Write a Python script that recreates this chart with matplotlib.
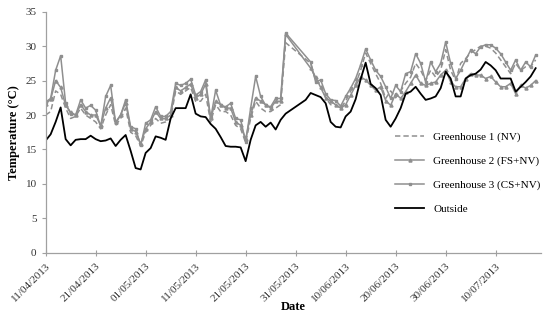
import numpy as np
import pandas as pd
import matplotlib
matplotlib.use("Agg")
import matplotlib.pyplot as plt
import matplotlib.dates as mdates

nan = np.nan
start = "2013-04-11"

# daily values from 11/04/2013, NaN = no greenhouse record
gh1 = [20.0, 20.5, 23.5, 23.0, 21.0, 19.5, 19.8, 21.0, 20.0, 19.5,
       19.0, 18.0, 20.0, 21.5, 18.5, 19.5, 21.0, 17.5, 17.0, 15.5,
       17.5, 18.5, 19.5, 18.8, 19.0, 19.5, 23.5, 23.0, 23.5, 24.0,
       22.0, 22.0, 23.0, 19.0, 21.5, 20.5, 20.5, 20.0, 18.5, 18.0,
       16.0, 19.5, 22.0, 21.0, 20.5, 20.5, 21.0, 21.5, 30.5, nan,
       nan, nan, nan, 27.5, 25.0, 24.5, 22.5, 21.5, 21.5, 21.0,
       22.0, 23.5, 24.5, 26.5, 29.0, 27.5, 26.0, 24.6, 22.4, 23.5,
       22.5, 23.5, 24.6, 25.5, 27.5, 26.5, 25.0, 26.5, 25.5, 26.5,
       29.5, 26.5, 25.0, 27.5, 28.2, 29.0, 29.5, 30.0, 30.0, 29.7,
       29.0, 28.0, 27.0, 26.0, 27.5, 26.5, 27.0, 27.0, 28.0]
gh2 = [21.6, 22.3, 25.0, 24.0, 21.4, 20.4, 20.0, 21.5, 20.5, 20.0,
       20.0, 18.5, 21.0, 22.5, 19.0, 20.0, 21.8, 18.0, 17.6, 15.8,
       18.0, 19.0, 20.5, 19.5, 19.5, 20.0, 24.0, 23.5, 24.0, 24.5,
       22.5, 23.0, 24.5, 19.5, 22.0, 21.5, 21.0, 21.0, 19.0, 18.5,
       16.5, 20.0, 22.5, 22.0, 21.5, 21.0, 22.0, 22.0, 31.7, nan,
       nan, nan, nan, 26.8, 25.5, 24.0, 22.5, 22.0, 21.5, 21.0,
       21.5, 22.9, 24.3, 25.5, 25.1, 24.3, 23.6, 24.1, 22.1, 21.4,
       23.1, 22.4, 23.4, 24.6, 25.8, 24.6, 24.3, 24.6, 24.8, 25.8,
       26.5, 24.8, 24.1, 24.1, 25.3, 26.0, 25.8, 25.8, 25.3, 25.6,
       24.8, 24.1, 24.1, 24.6, 23.1, 24.3, 23.9, 24.3, 25.0]
gh3 = [21.9, 22.4, 26.5, 28.6, 21.7, 20.2, 20.0, 22.2, 21.0, 21.4,
       20.7, 18.3, 22.7, 24.3, 18.8, 20.0, 22.2, 18.3, 18.0, 15.6,
       18.8, 19.3, 21.2, 19.8, 19.8, 20.5, 24.6, 24.3, 24.6, 25.2,
       22.9, 23.4, 25.1, 19.5, 23.6, 21.4, 21.2, 21.7, 19.5, 19.3,
       16.1, 21.0, 25.6, 22.7, 21.4, 21.2, 22.4, 22.4, 31.9, nan,
       nan, nan, nan, 27.7, 24.8, 25.1, 23.1, 22.2, 22.1, 21.3,
       22.7, 23.9, 25.3, 27.3, 29.6, 28.0, 26.5, 25.6, 24.1, 22.4,
       24.3, 23.4, 26.0, 26.3, 28.9, 27.5, 24.8, 27.7, 26.3, 27.5,
       30.6, 27.5, 25.3, 26.5, 28.0, 29.4, 28.9, 29.9, 30.2, 30.2,
       29.7, 28.9, 27.7, 26.5, 28.0, 26.5, 27.7, 27.0, 28.7]
outside = [16.3, 17.2, 19.0, 21.1, 16.5, 15.6, 16.4, 16.5, 16.5, 17.0,
           16.5, 16.2, 16.3, 16.6, 15.5, 16.4, 17.1, 14.8, 12.3, 12.1,
           14.5, 15.2, 16.9, 16.7, 16.4, 19.5, 21.0, 21.0, 21.0, 23.0,
           20.2, 19.8, 19.7, 18.7, 18.0, 16.8, 15.5, 15.4, 15.4, 15.3,
           13.3, 16.4, 18.5, 19.0, 18.3, 18.9, 17.9, 19.3, 20.2, 20.7,
           21.2, 21.7, 22.2, 23.2, 22.9, 22.6, 21.7, 19.0, 18.3, 18.2,
           19.8, 20.5, 22.3, 25.2, 27.6, 24.5, 23.9, 22.9, 19.3, 18.3,
           19.5, 21.0, 23.1, 23.4, 24.1, 23.1, 22.2, 22.4, 22.7, 23.9,
           26.3, 25.3, 22.7, 22.7, 25.3, 25.8, 26.0, 26.6, 27.7, 27.2,
           26.5, 25.3, 25.3, 25.3, 23.4, 24.1, 24.8, 25.6, 26.8]

tick_labels = ["11/04/2013", "21/04/2013", "01/05/2013", "11/05/2013",
               "21/05/2013", "31/05/2013", "10/06/2013", "20/06/2013",
               "30/06/2013", "10/07/2013"]

dates = pd.date_range(start, periods=len(outside), freq="D")
ticks = pd.to_datetime(tick_labels, format="%d/%m/%Y")

plt.rcParams["font.family"] = ["Liberation Serif", "DejaVu Serif"]
grey = "#8f8f8f"

fig = plt.figure(figsize=(5.5, 3.16), dpi=100)
ax = fig.add_axes([0.083, 0.2, 0.900, 0.763])


def plotValid(y, **kw):
    # skip missing days so the line joins across the gap
    y = np.array(y)
    ok = ~np.isnan(y)
    ax.plot(dates[ok], y[ok], **kw)


plotValid(gh1, color=grey, lw=1.1, ls=(0, (3.5, 2)), label="Greenhouse 1 (NV)")
plotValid(gh2, color=grey, lw=1.1, marker="^", ms=2.2,
          label="Greenhouse 2 (FS+NV)")
plotValid(gh3, color=grey, lw=1.1, marker="s", ms=2.0,
          label="Greenhouse 3 (CS+NV)")
plotValid(outside, color="black", lw=1.3, label="Outside")

ax.set_ylim(0, 35)
ax.set_yticks(np.arange(0, 36, 5))
ax.set_xlim(dates[0], dates[0] + pd.Timedelta(days=99))
ax.set_xticks(ticks)
ax.set_xticklabels(tick_labels, rotation=45, ha="right", rotation_mode="anchor")
ax.tick_params(axis="both", labelsize=8, colors="#333333", length=3,
               color="#a0a0a0", width=0.8)
ax.tick_params(axis="x", direction="inout", length=5)

for s in ["top", "right"]:
    ax.spines[s].set_visible(False)
for s in ["left", "bottom"]:
    ax.spines[s].set_color("#a0a0a0")
    ax.spines[s].set_linewidth(0.9)

ax.set_ylabel("Temperature (°C)", fontsize=9, fontweight="bold")
ax.set_xlabel("Date", fontsize=9, fontweight="bold", labelpad=-2)

ax.legend(loc="lower right", bbox_to_anchor=(1.02, 0.12), frameon=False,
          fontsize=8, handlelength=2.6, labelspacing=1.25)

fig.savefig("out.png", dpi=100)
plt.close()
